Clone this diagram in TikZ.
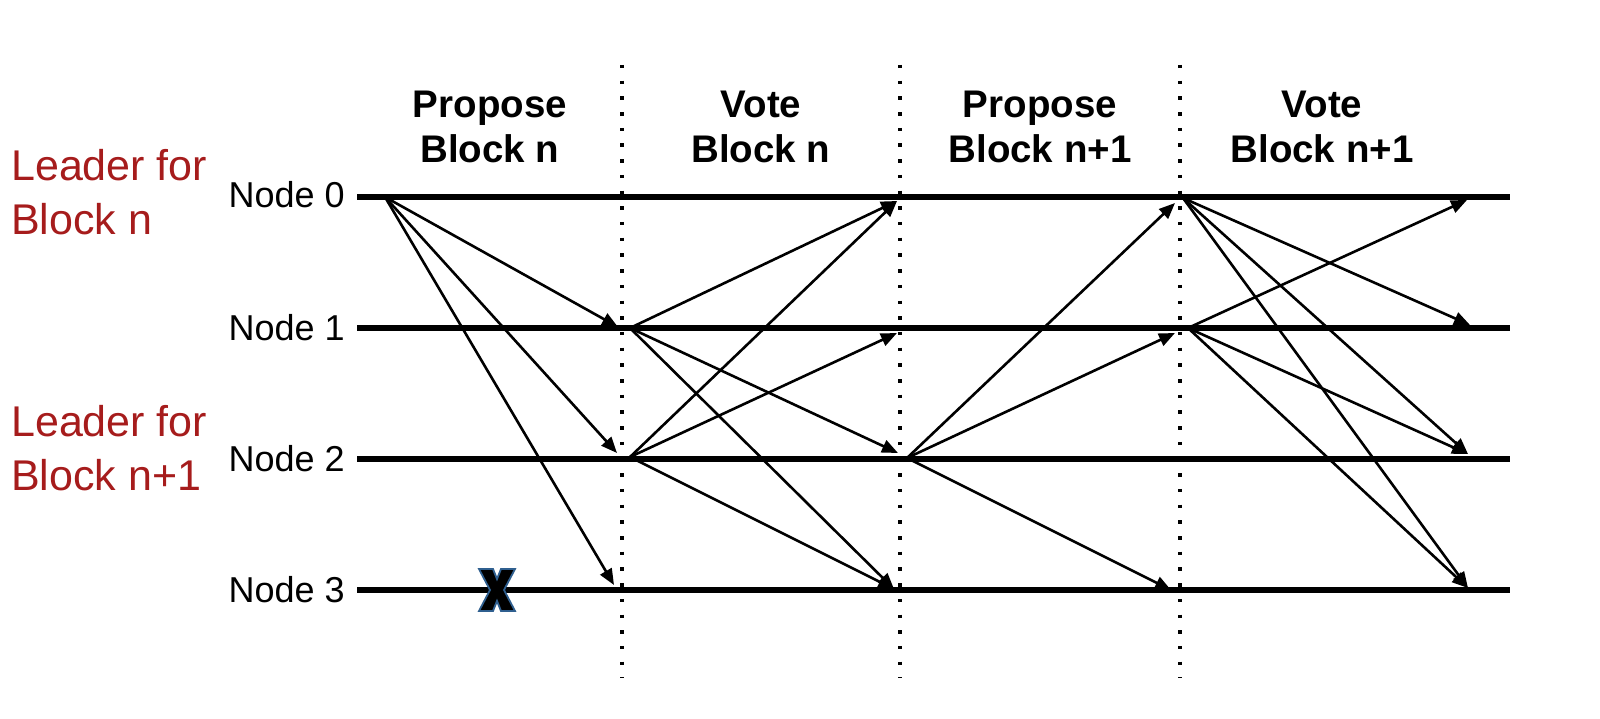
\documentclass[tikz,border=0pt]{standalone}
\usepackage{fontspec}
\setmainfont{Liberation Sans}
\usetikzlibrary{arrows.meta}
\definecolor{leadred}{HTML}{A61C1C}
\definecolor{xblue}{HTML}{2F5F8F}
\begin{document}
\begin{tikzpicture}[x=1pt,y=-1pt,
  timeline/.style={line width=6.5pt},
  phase/.style={line width=3.5pt, dash pattern=on 3.5pt off 12.2pt},
  msg/.style={line width=2.6pt, -{Triangle[length=16pt,width=13pt]}},
  nodelabel/.style={anchor=base east, inner sep=0pt, font=\fontsize{36}{42}\selectfont},
  header/.style={anchor=base, align=center, inner sep=0pt, font=\bfseries\fontsize{38.5}{45}\selectfont},
  leader/.style={anchor=base west, align=left, inner sep=0pt, text=leadred, font=\fontsize{43}{54}\selectfont},
  crossmark/.style={fill=black, draw=xblue, line width=1.8pt, line join=miter}]
\useasboundingbox (0,0) rectangle (1600,719);

% phase separators
\coordinate (d1t) at (622,65);  \coordinate (d1b) at (622,678);
\coordinate (d2t) at (900,65);  \coordinate (d2b) at (900,678);
\coordinate (d3t) at (1180,65); \coordinate (d3b) at (1180,678);
\draw[phase] (d1t) -- (d1b);
\draw[phase] (d2t) -- (d2b);
\draw[phase] (d3t) -- (d3b);

% headers (anchor = baseline of last line)
\node[header] (h1) at (490,163) {Propose\\Block n};
\node[header] (h2) at (761,163) {Vote\\Block n};
\node[header] (h3) at (1040,163) {Propose\\Block n+1};
\node[header] (h4) at (1322,163) {Vote\\Block n+1};

% leader labels
\node[leader] (lead0) at (11,235) {Leader for\\Block n};
\node[leader] (lead1) at (11,490) {Leader for\\Block n+1};

% node labels
\node[nodelabel] (n0) at (345,208) {Node 0};
\node[nodelabel] (n1) at (345,340) {Node 1};
\node[nodelabel] (n2) at (345,471) {Node 2};
\node[nodelabel] (n3) at (345,602) {Node 3};

% timelines
\coordinate (s0) at (357,197); \coordinate (e0) at (1510,197);
\coordinate (s1) at (357,328); \coordinate (e1) at (1510,328);
\coordinate (s2) at (357,459); \coordinate (e2) at (1510,459);
\coordinate (s3) at (357,590); \coordinate (e3) at (1510,590);
\draw[timeline] (s0) -- (e0);
\draw[timeline] (s1) -- (e1);
\draw[timeline] (s2) -- (e2);
\draw[timeline] (s3) -- (e3);

% event points
\coordinate (p0) at (385,197);
\coordinate (t01) at (618,327);
\coordinate (t02) at (617,453);
\coordinate (t03) at (614,585);
\coordinate (v1) at (630,328);
\coordinate (v2) at (630,457);
\coordinate (u0) at (897,201);
\coordinate (u1) at (897,333);
\coordinate (u2) at (898,453);
\coordinate (u3) at (894,589);
\coordinate (q2) at (907,458);
\coordinate (w0) at (1175,203);
\coordinate (w1) at (1175,333);
\coordinate (w3) at (1171,590);
\coordinate (r0) at (1183,198);
\coordinate (r1) at (1188,328);
\coordinate (z0) at (1467,200);
\coordinate (z1) at (1470,325);
\coordinate (z2) at (1468,454);
\coordinate (z3) at (1468,588);

% propose block n (leader node 0)
\draw[msg] (p0) -- (t01);
\draw[msg] (p0) -- (t02);
\draw[msg] (p0) -- (t03);
% vote block n
\draw[msg] (v1) -- (u0);
\draw[msg] (v1) -- (u2);
\draw[msg] (v1) -- (u3);
\draw[msg] (v2) -- (u0);
\draw[msg] (v2) -- (u1);
\draw[msg] (v2) -- (u3);
% propose block n+1 (leader node 2)
\draw[msg] (q2) -- (w0);
\draw[msg] (q2) -- (w1);
\draw[msg] (q2) -- (w3);
% vote block n+1
\draw[msg] (r0) -- (z1);
\draw[msg] (r0) -- (z2);
\draw[msg] (r0) -- (z3);
\draw[msg] (r1) -- (z0);
\draw[msg] (r1) -- (z2);
\draw[msg] (r1) -- (z3);

% crash mark on node 3
\coordinate (xc) at (497,590);
\draw[crossmark] ([shift={(-18,-21)}]xc) -- ([shift={(-4,-21)}]xc) -- ([shift={(0,-11)}]xc)
  -- ([shift={(4,-21)}]xc) -- ([shift={(18,-21)}]xc) -- ([shift={(7,0)}]xc)
  -- ([shift={(18,21)}]xc) -- ([shift={(4,21)}]xc) -- ([shift={(0,11)}]xc)
  -- ([shift={(-4,21)}]xc) -- ([shift={(-18,21)}]xc) -- ([shift={(-7,0)}]xc) -- cycle;
\end{tikzpicture}
\end{document}
